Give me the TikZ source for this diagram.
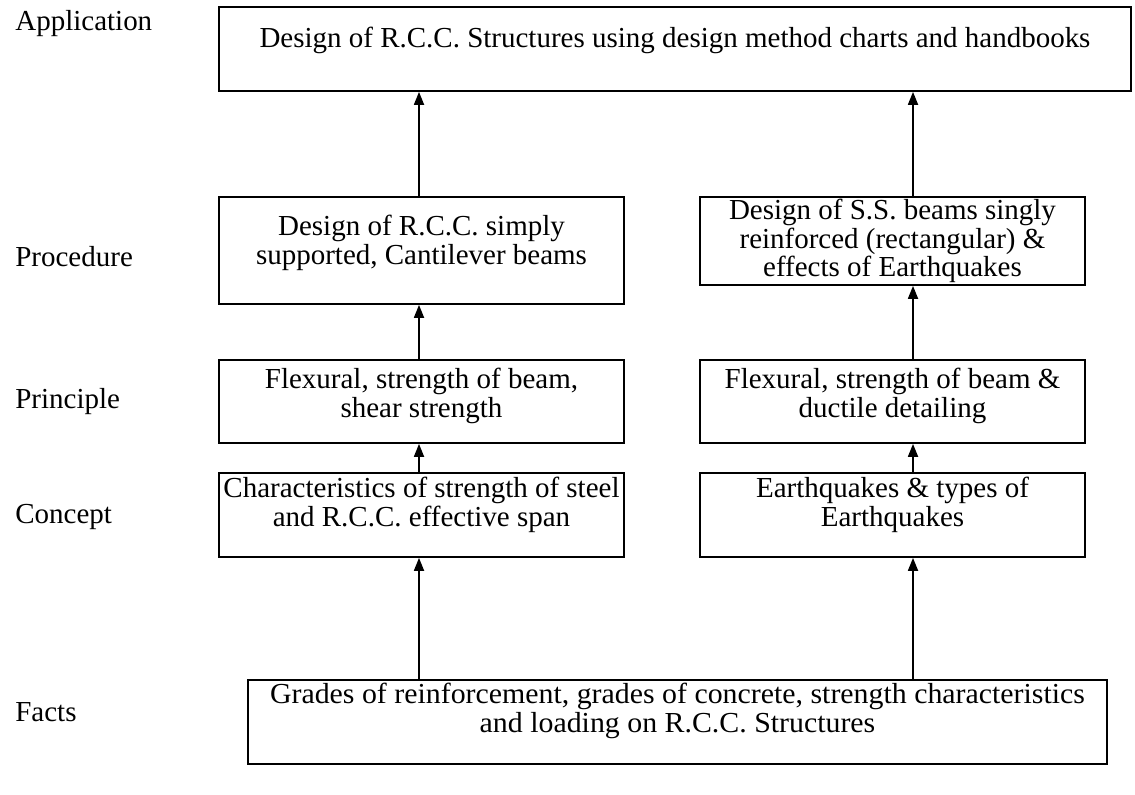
\documentclass[tikz,border=0pt]{standalone}
\usepackage{fontspec}
\setmainfont{Liberation Serif}
\usepackage{tikz}
\usetikzlibrary{positioning,arrows.meta,calc}

\begin{document}
\begin{tikzpicture}[
  x=0.02cm, y=-0.02cm,
  every node/.style={font=\fontsize{16.5}{16.8}\selectfont},
  box/.style={draw, line width=1pt, rectangle, inner sep=0pt},
  txt/.style={align=center, inner sep=0pt},
  lvl/.style={anchor=west, inner sep=0pt},
  arr/.style={line width=1pt, -{Triangle[length=0.26cm, width=0.2cm]}}
]
  \useasboundingbox (0,0) rectangle (1135,794);

  % level names
  \node[lvl] (lApp)  at (15,24)  {Application};
  \node[lvl] (lProc) at (15,257) {Procedure};
  \node[lvl] (lPrin) at (15,402) {Principle};
  \node[lvl] (lCon)  at (15,517) {Concept};
  \node[lvl] (lFact) at (15,712) {Facts};

  % boxes
  \node[box, minimum width=18.24cm, minimum height=1.68cm] (app) at (675,49) {};
  \node[box, minimum width=8.1cm, minimum height=2.14cm] (procL) at (421.5,250.5) {};
  \node[box, minimum width=7.7cm, minimum height=1.76cm] (procR) at (892.5,241) {};
  \node[box, minimum width=8.1cm, minimum height=1.66cm] (prinL) at (421.5,401.5) {};
  \node[box, minimum width=7.7cm, minimum height=1.66cm] (prinR) at (892.5,401.5) {};
  \node[box, minimum width=8.1cm, minimum height=1.68cm] (conL) at (421.5,515) {};
  \node[box, minimum width=7.7cm, minimum height=1.68cm] (conR) at (892.5,515) {};
  \node[box, minimum width=17.18cm, minimum height=1.68cm] (facts) at (677.5,722) {};

  % texts
  \node[txt] (appT) at (675,40) {Design of R.C.C. Structures using design method charts and handbooks};
  \node[txt] (procLT) at (421.5,243) {Design of R.C.C. simply\\supported, Cantilever beams};
  \node[txt, font=\fontsize{16.5}{14.5}\selectfont] (procRT) at (892.5,241) {Design of S.S. beams singly\\reinforced (rectangular) \&\\effects of Earthquakes};
  \node[txt] (prinLT) at (421.5,396) {Flexural, strength of beam,\\shear strength};
  \node[txt] (prinRT) at (892.5,396) {Flexural, strength of beam \&\\ductile detailing};
  \node[txt] (conLT) at (421.5,505) {Characteristics of strength of steel\\and R.C.C. effective span};
  \node[txt] (conRT) at (892.5,505) {Earthquakes \& types of\\Earthquakes};
  \node[txt] (factsT) at (677.5,711) {\scalebox{1.03}[1]{Grades of reinforcement, grades of concrete, strength characteristics}\\\scalebox{1.03}[1]{and loading on R.C.C. Structures}};

  % arrow columns
  \coordinate (lcol) at (419,0);
  \coordinate (rcol) at (913,0);

  \draw[arr] (facts.north -| lcol) -- (conL.south -| lcol);
  \draw[arr] (facts.north -| rcol) -- (conR.south -| rcol);
  \draw[arr] (conL.north -| lcol) -- (prinL.south -| lcol);
  \draw[arr] (conR.north -| rcol) -- (prinR.south -| rcol);
  \draw[arr] (prinL.north -| lcol) -- (procL.south -| lcol);
  \draw[arr] (prinR.north -| rcol) -- (procR.south -| rcol);
  \draw[arr] (procL.north -| lcol) -- (app.south -| lcol);
  \draw[arr] (procR.north -| rcol) -- (app.south -| rcol);
\end{tikzpicture}
\end{document}
